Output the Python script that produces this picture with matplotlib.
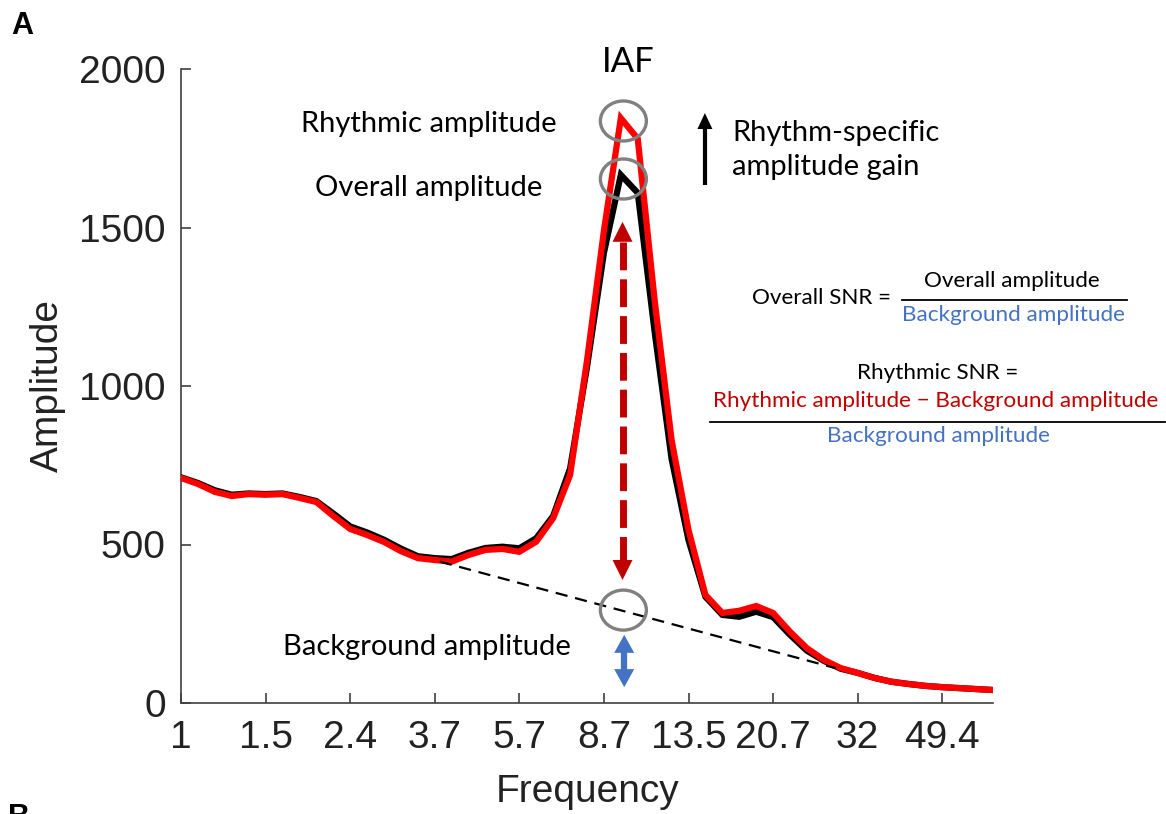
import numpy as np
import matplotlib
matplotlib.use("Agg")
import matplotlib.pyplot as plt
from matplotlib.patches import Ellipse, Polygon
from matplotlib.lines import Line2D

# ---------------- data ----------------
# frequency bins (log spaced, 8 bins per octave) -> plotted by bin index
tick_bins = [0, 5, 10, 15, 20, 25, 30, 35, 40, 45]
tick_labels = ["1", "1.5", "2.4", "3.7", "5.7", "8.7", "13.5", "20.7", "32", "49.4"]

rhythmic_amp = [710, 691, 666, 653, 659, 657, 659, 647, 634, 590,
                549, 530, 508, 479, 457, 451, 446, 467, 483, 486,
                477, 509, 583, 719, 1080, 1490, 1845, 1780, 1270, 830,
                546, 341, 284, 291, 306, 284, 225, 173, 136, 110,
                95, 79, 67, 60, 54, 50, 47, 44, 41]
overall_amp = [712, 694, 671, 657, 661, 659, 661, 650, 637, 598,
               557, 538, 515, 487, 463, 457, 454, 474, 489, 493,
               488, 520, 590, 740, 1060, 1420, 1666, 1609, 1170, 770,
               514, 335, 278, 272, 288, 271, 215, 165, 133, 108,
               95, 79, 67, 60, 54, 50, 47, 44, 41]
# background (aperiodic) fit: endpoints in bin index / amplitude
bg_bins = [15.3, 38.7]
bg_amp = [446, 110]

peak_bin = 26.15
rhythmic_peak = 1836
overall_peak = 1653
background_at_peak = 293

W, H = 1166, 814
fig = plt.figure(figsize=(W / 100, H / 100), dpi=100)
ax = fig.add_axes([181 / W, 1 - 703 / H, (993 - 181) / W, (703 - 69) / H])

x = np.arange(len(rhythmic_amp))
ax.plot(x, overall_amp, color="black", lw=4.5, solid_joinstyle="miter", zorder=3)
ax.plot(x, rhythmic_amp, color="#ff0000", lw=4.5, solid_joinstyle="miter", zorder=4)
ax.plot(bg_bins, bg_amp, color="black", lw=1.6, ls=(0, (5.5, 3.5)), zorder=5)

ax.set_xlim(0, 48)
ax.set_ylim(0, 2000)
ax.set_xticks(tick_bins)
ax.set_xticklabels(tick_labels)
ax.set_yticks([0, 500, 1000, 1500, 2000])
for s in ["top", "right"]:
    ax.spines[s].set_visible(False)
for s in ["left", "bottom"]:
    ax.spines[s].set_color("#404040")
    ax.spines[s].set_linewidth(1.2)
ax.tick_params(direction="in", length=7, width=1.2, color="#404040",
               labelsize=28, labelcolor="#222222")
ax.tick_params(axis="y", pad=11)
ax.tick_params(axis="x", pad=12)
for lab in ax.get_xticklabels() + ax.get_yticklabels():
    lab.set_family("Liberation Sans")

# pixel helpers
pxx = (993 - 181) / 48.0   # px per bin
pxy = (703 - 69) / 2000.0  # px per amplitude unit

def tri(xc, ytip, width_px, len_px, up, color):
    hw = width_px / 2 / pxx
    hl = len_px / pxy
    base = ytip - hl if up else ytip + hl
    ax.add_patch(Polygon([[xc - hw, base], [xc + hw, base], [xc, ytip]],
                         closed=True, color=color, lw=0, zorder=7, clip_on=False))
    return base

# circles
for yc in [rhythmic_peak, overall_peak, background_at_peak]:
    ax.add_patch(Ellipse((peak_bin, yc), 46 / pxx, 40 / pxy, fill=False,
                         ec="#808080", lw=2.4, zorder=8, clip_on=False))

# red dashed double arrow
red_dark = "#c00000"
top_tip, bot_tip = 1518, 388
b1 = tri(peak_bin - 0.05, top_tip, 20, 20, True, red_dark)
b2 = tri(peak_bin - 0.05, bot_tip, 20, 20, False, red_dark)
ax.plot([peak_bin - 0.05, peak_bin - 0.05], [b1, b2], color=red_dark, lw=5,
        ls=(0, (4.0, 1.3)), solid_capstyle="butt", dash_capstyle="butt", zorder=6)

# blue double arrow
blue = "#4472c4"
bx = peak_bin + 0.05
t1 = tri(bx, 215, 20, 18, True, blue)
t2 = tri(bx, 50, 20, 18, False, blue)
ax.plot([bx, bx], [t1 + 5, t2 - 5], color=blue, lw=4.5, solid_capstyle="butt", zorder=6)

# black up arrow
kx = 30.97
h1 = tri(kx, 1861, 15, 16, True, "black")
ax.plot([kx, kx], [h1 + 3, 1634], color="black", lw=3, solid_capstyle="butt",
        zorder=6, clip_on=False)

# ---------------- texts ----------------
ANN = ["Lato", "DejaVu Sans"]

def ftext(xp, yp, s, **kw):
    fig.text(xp / W, 1 - yp / H, s, **kw)

ftext(22, 26, "A", fontsize=22, fontweight="bold", family="Liberation Sans",
      ha="center", va="center")
ftext(19, 803, "B", fontsize=22, fontweight="bold", family="Liberation Sans",
      ha="center", va="top")
ftext(48, 386, "Amplitude", fontsize=28, family="Liberation Sans", rotation=90,
      ha="center", va="center", color="#222222")
ftext(588, 792, "Frequency", fontsize=28, family="Liberation Sans",
      ha="center", va="center", color="#222222")

ann = 21
ftext(628, 62, "IAF", fontsize=25, family=ANN, ha="center", va="center")
ftext(429, 124, "Rhythmic amplitude", fontsize=ann, family=ANN, ha="center", va="center")
ftext(429, 188, "Overall amplitude", fontsize=ann, family=ANN, ha="center", va="center")
ftext(427, 647, "Background amplitude", fontsize=ann, family=ANN, ha="center", va="center")
ftext(732, 133, "Rhythm-specific", fontsize=ann, family=ANN, ha="left", va="center")
ftext(732, 167, "amplitude gain", fontsize=ann, family=ANN, ha="left", va="center")

# equations
eq = 16.2
ftext(822, 298, "Overall SNR =", fontsize=eq, family=ANN, ha="center", va="center")
ftext(1012, 281, "Overall amplitude", fontsize=eq, family=ANN, ha="center", va="center")
fig.add_artist(Line2D([902 / W, 1127 / W], [1 - 300 / H, 1 - 300 / H],
                      color="black", lw=1.3))
ftext(1013, 315, "Background amplitude", fontsize=eq, family=ANN, ha="center",
      va="center", color=blue)

ftext(938, 373, "Rhythmic SNR =", fontsize=eq, family=ANN, ha="center", va="center")
ftext(936, 401, "Rhythmic amplitude \u2212 Background amplitude", fontsize=eq,
      family=ANN, ha="center", va="center", color=red_dark)
fig.add_artist(Line2D([710 / W, 1165 / W], [1 - 422 / H, 1 - 422 / H],
                      color="black", lw=1.3))
ftext(938, 436, "Background amplitude", fontsize=eq, family=ANN, ha="center",
      va="center", color=blue)

fig.savefig("out.png", dpi=100)
